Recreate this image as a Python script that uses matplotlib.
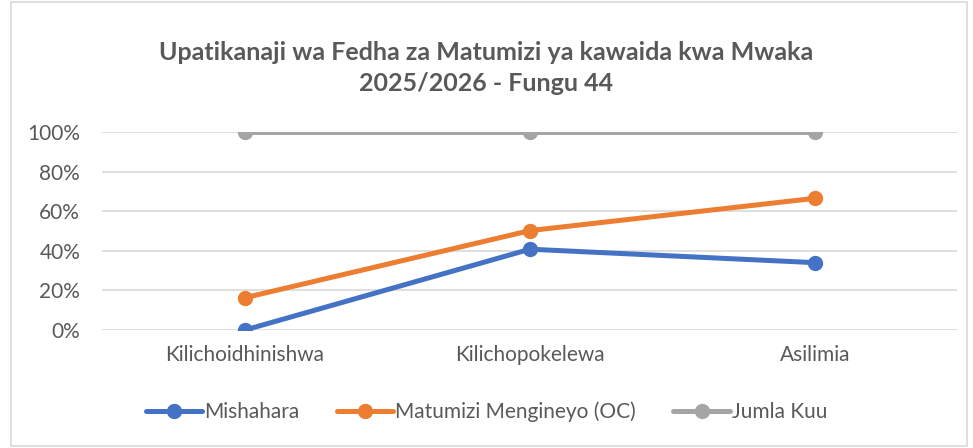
import matplotlib
matplotlib.use("Agg")
from matplotlib import pyplot as plt
from matplotlib.patches import Rectangle
from matplotlib.ticker import PercentFormatter

categories = ["Kilichoidhinishwa", "Kilichopokelewa", "Asilimia"]
mishahara = [0.0, 40.8, 34.0]
matumizi_oc = [16.3, 50.2, 66.5]
jumla_kuu = [100.0, 100.0, 100.0]

series_names = ["Mishahara", "Matumizi Mengineyo (OC)", "Jumla Kuu"]
colors = ["#4472C4", "#ED7D31", "#A5A5A5"]

plt.rcParams['font.family'] = ['Lato', 'DejaVu Sans']
text_col = "#595959"

fig = plt.figure(figsize=(9.73, 4.48), dpi=100)
ax = fig.add_axes([0.1053, 0.2634, 0.8787, 0.442])

x = list(range(len(categories)))
for vals, name, c in zip([mishahara, matumizi_oc, jumla_kuu], series_names, colors):
    ax.plot(x, vals, color=c, lw=3.6, marker='o', ms=10, label=name,
            solid_capstyle='round', zorder=3)

ax.set_xlim(-0.5, 2.5)
ax.set_ylim(0, 100)
ax.set_yticks([0, 20, 40, 60, 80, 100])
ax.yaxis.set_major_formatter(PercentFormatter(decimals=0))
ax.set_xticks(x)
ax.set_xticklabels(categories)
ax.grid(axis='y', color='#D9D9D9', lw=1.2, zorder=0)
for s in ax.spines.values():
    s.set_visible(False)
ax.tick_params(length=0, labelsize=15, colors=text_col)
ax.tick_params(axis='y', pad=16)
ax.tick_params(axis='x', pad=11)
for lbl in ax.get_xticklabels() + ax.get_yticklabels():
    lbl.set_color(text_col)

fig.text(0.5, 0.848, "Upatikanaji wa Fedha za Matumizi ya kawaida kwa Mwaka\n2025/2026 - Fungu 44",
         ha='center', va='center', fontsize=18, fontweight='bold', color=text_col,
         linespacing=1.45)

fig.legend(loc='center', bbox_to_anchor=(0.5, 0.08), ncol=3, frameon=False,
           fontsize=15, labelcolor=text_col, handlelength=2.7, columnspacing=1.8,
           handletextpad=0.1)

fig.patches.append(Rectangle((0.011, 0.005), 0.983, 0.99, transform=fig.transFigure,
                             fill=False, edgecolor='#D9D9D9', lw=1.2))

fig.savefig("out.png", dpi=100)
